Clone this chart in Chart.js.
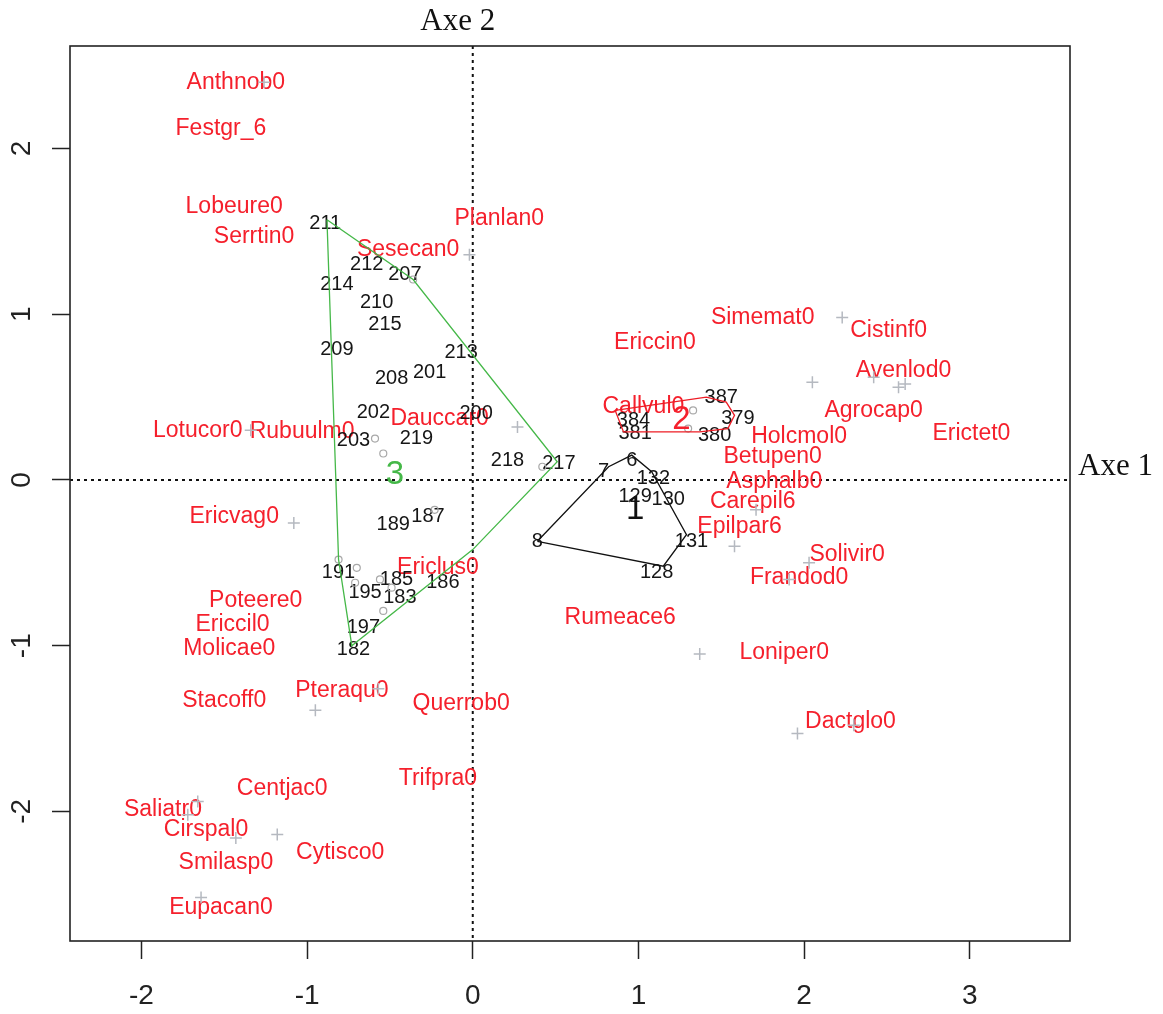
<!DOCTYPE html>
<html>
<head>
<meta charset="utf-8">
<script src="https://cdn.jsdelivr.net/npm/chart.js@4.4.1/dist/chart.umd.min.js"></script>
<style>
  html, body { margin: 0; padding: 0; background: #ffffff; }
  #wrap { width: 1163px; height: 1014px; position: relative; }
</style>
</head>
<body>
<div id="wrap"><canvas id="c" width="1163" height="1014"></canvas></div>
<script>
// ---- species (red labels) ----
const speciesNames = ['Anthnob0','Festgr_6','Lobeure0','Serrtin0','Planlan0','Sesecan0','Simemat0','Cistinf0',
  'Ericcin0','Avenlod0','Agrocap0','Callvul0','Erictet0','Holcmol0','Lotucor0','Rubuulm0','Dauccar0','Betupen0',
  'Asphalb0','Carepil6','Epilpar6','Ericvag0','Solivir0','Ericlus0','Frandod0','Poteere0','Rumeace6','Ericcil0',
  'Molicae0','Loniper0','Stacoff0','Pteraqu0','Querrob0','Dactglo0','Trifpra0','Centjac0','Saliatr0','Cirspal0',
  'Smilasp0','Cytisco0','Eupacan0'];
const speciesX = [-1.43,-1.52,-1.44,-1.32,0.16,-0.39,1.75,2.51,
  1.10,2.60,2.42,1.03,3.01,1.97,-1.66,-1.03,-0.20,1.81,
  1.82,1.69,1.61,-1.44,2.26,-0.21,1.97,-1.31,0.89,-1.45,
  -1.47,1.88,-1.50,-0.79,-0.07,2.28,-0.21,-1.15,-1.87,-1.61,
  -1.49,-0.80,-1.52];
const speciesY = [2.40,2.12,1.65,1.47,1.58,1.39,0.98,0.90,
  0.83,0.66,0.42,0.44,0.28,0.26,0.30,0.29,0.37,0.14,
  -0.01,-0.13,-0.28,-0.22,-0.45,-0.53,-0.59,-0.73,-0.83,-0.87,
  -1.02,-1.04,-1.33,-1.27,-1.35,-1.46,-1.80,-1.86,-1.99,-2.11,
  -2.31,-2.25,-2.58];

// ---- species markers (grey crosses) ----
const crossX = [-0.02,0.27,-1.26,2.23,2.05,2.42,2.57,2.61,-1.34,-1.08,-0.95,-0.57,
  -1.66,-1.72,-1.43,-1.18,-1.64,1.58,1.71,2.03,1.91,1.37,1.96,2.30];
const crossY = [1.36,0.32,2.40,0.98,0.59,0.62,0.56,0.58,0.30,-0.26,-1.39,-1.26,
  -1.94,-2.02,-2.16,-2.14,-2.52,-0.40,-0.18,-0.50,-0.60,-1.05,-1.53,-1.48];

// ---- sites (black labels) ----
const siteNames = ['211','212','207','214','210','215','209','213','201','208','202','200','203','219','218','217',
  '189','187','191','185','186','195','183','197','182',
  '387','384','379','381','380',
  '6','7','132','129','130','8','131','128'];
const siteX = [-0.89,-0.64,-0.41,-0.82,-0.58,-0.53,-0.82,-0.07,-0.26,-0.49,-0.60,0.02,-0.72,-0.34,0.21,0.52,
  -0.48,-0.27,-0.81,-0.46,-0.18,-0.65,-0.44,-0.66,-0.72,
  1.50,0.97,1.60,0.98,1.46,
  0.96,0.79,1.09,0.98,1.18,0.39,1.32,1.11];
const siteY = [1.55,1.30,1.24,1.18,1.07,0.94,0.79,0.77,0.65,0.61,0.41,0.40,0.24,0.25,0.12,0.10,
  -0.27,-0.22,-0.56,-0.60,-0.62,-0.68,-0.71,-0.89,-1.02,
  0.50,0.36,0.37,0.28,0.27,
  0.12,0.05,0.01,-0.10,-0.12,-0.37,-0.37,-0.56];

// ---- site markers (grey circles) ----
const dotX = [-0.59,-0.54,0.42,-0.36,-0.81,-0.70,-0.71,-0.56,-0.49,-0.54,-0.23,1.33,1.30];
const dotY = [0.25,0.16,0.08,1.21,-0.48,-0.53,-0.62,-0.60,-0.65,-0.79,-0.18,0.42,0.31];

// ---- group hulls ----
const hull1X = [0.39,0.82,0.96,1.08,1.29,1.15];
const hull1Y = [-0.37,0.08,0.15,0.05,-0.33,-0.52];
const hull2X = [0.86,1.41,1.53,1.58,1.54,1.37,0.91];
const hull2Y = [0.42,0.50,0.47,0.39,0.31,0.29,0.29];
const hull3X = [-0.88,-0.36,0.51,0.00,-0.73,-0.81];
const hull3Y = [1.57,1.21,0.11,-0.42,-1.00,-0.48];

// ---- group labels ----
const groupNames = ['1','2','3'];
const groupX = [0.98,1.26,-0.47];
const groupY = [-0.18,0.36,0.03];

// ---- axes ----
const xTicks = [-2,-1,0,1,2,3];
const yTicks = [-2,-1,0,1,2];
const xRange = [-2.431, 3.605];
const yRange = [-2.782, 2.619];
const xTitle = 'Axe 1';
const yTitle = 'Axe 2';

const SANS = '"Liberation Sans", Arial, sans-serif';
const SERIF = '"Liberation Serif", "Times New Roman", serif';
const RED = '#f5202c';
const GREEN = '#45b848';

const pts = (xs, ys) => xs.map((x, i) => ({ x: x, y: ys[i] }));
const closed = (xs, ys) => { const p = pts(xs, ys); p.push(p[0]); return p; };

const overlay = {
  id: 'overlay',
  beforeDatasetsDraw(chart) {
    const { ctx, chartArea: a, scales: { x, y } } = chart;
    ctx.save();
    // dotted reference lines through the origin
    ctx.strokeStyle = '#111';
    ctx.lineWidth = 2;
    ctx.setLineDash([3, 4]);
    const x0 = x.getPixelForValue(0), y0 = y.getPixelForValue(0);
    ctx.beginPath();
    ctx.moveTo(x0, a.top); ctx.lineTo(x0, a.bottom);
    ctx.moveTo(a.left, y0); ctx.lineTo(a.right, y0);
    ctx.stroke();
    ctx.setLineDash([]);

    ctx.textAlign = 'center';
    ctx.textBaseline = 'middle';
    // species labels
    ctx.fillStyle = RED;
    ctx.font = '23px ' + SANS;
    speciesNames.forEach((n, i) => {
      ctx.fillText(n, x.getPixelForValue(speciesX[i]), y.getPixelForValue(speciesY[i]));
    });
    // site labels
    ctx.fillStyle = '#161616';
    ctx.font = '20px ' + SANS;
    siteNames.forEach((n, i) => {
      ctx.fillText(n, x.getPixelForValue(siteX[i]), y.getPixelForValue(siteY[i]));
    });
    ctx.restore();
  },
  afterDatasetsDraw(chart) {
    const { ctx, chartArea: a, scales: { x, y } } = chart;
    ctx.save();
    ctx.textAlign = 'center';
    ctx.textBaseline = 'middle';
    // group names at hull centres
    const gColors = ['#111111', RED, GREEN];
    ctx.font = '33px ' + SANS;
    groupNames.forEach((n, i) => {
      ctx.fillStyle = gColors[i];
      ctx.fillText(n, x.getPixelForValue(groupX[i]), y.getPixelForValue(groupY[i]));
    });
    // frame
    ctx.strokeStyle = '#222';
    ctx.lineWidth = 1.6;
    ctx.strokeRect(a.left, a.top, a.right - a.left, a.bottom - a.top);
    // vertical axis numbers, rotated
    ctx.fillStyle = '#222';
    ctx.font = '28px ' + SANS;
    yTicks.forEach(v => {
      ctx.save();
      ctx.translate(a.left - 48, y.getPixelForValue(v));
      ctx.rotate(-Math.PI / 2);
      ctx.fillText(String(v), 0, 0);
      ctx.restore();
    });
    // axis names
    ctx.fillStyle = '#111';
    ctx.font = '31px ' + SERIF;
    ctx.fillText(yTitle, x.getPixelForValue(0) - 15, a.top - 24);
    ctx.textAlign = 'left';
    ctx.fillText(xTitle, a.right + 8, y.getPixelForValue(0) - 13);
    ctx.restore();
  }
};

const hullStyle = (color) => ({
  showLine: true, fill: false, tension: 0, borderColor: color, borderWidth: 1.3,
  pointRadius: 0, pointHoverRadius: 0
});

new Chart(document.getElementById('c'), {
  type: 'scatter',
  data: {
    datasets: [
      Object.assign({ label: 'groupe 1', data: closed(hull1X, hull1Y) }, hullStyle('#111111')),
      Object.assign({ label: 'groupe 2', data: closed(hull2X, hull2Y) }, hullStyle('#ee1c25')),
      Object.assign({ label: 'groupe 3', data: closed(hull3X, hull3Y) }, hullStyle(GREEN)),
      { label: 'especes', data: pts(crossX, crossY), pointStyle: 'cross', pointRadius: 6,
        borderColor: '#b5b9c0', borderWidth: 1.5, backgroundColor: '#b5b9c0' },
      { label: 'releves', data: pts(dotX, dotY), pointStyle: 'circle', pointRadius: 3.5,
        borderColor: '#a8a8a8', borderWidth: 1.2, backgroundColor: 'rgba(0,0,0,0)' }
    ]
  },
  options: {
    responsive: false,
    animation: false,
    devicePixelRatio: 1,
    layout: { padding: { top: 46, right: 93, left: 0, bottom: 0 } },
    plugins: { legend: { display: false }, tooltip: { enabled: false } },
    events: [],
    scales: {
      x: {
        type: 'linear', min: xRange[0], max: xRange[1],
        afterBuildTicks: s => { s.ticks = xTicks.map(v => ({ value: v })); },
        afterFit: s => { s.height = 73; },
        border: { display: false },
        grid: { drawOnChartArea: false, drawTicks: true, tickLength: 18, tickColor: '#222', tickWidth: 1.5 },
        ticks: { autoSkip: false, maxRotation: 0, padding: 20, color: '#222',
                 font: { family: SANS, size: 28 }, callback: v => String(v) }
      },
      y: {
        type: 'linear', min: yRange[0], max: yRange[1],
        afterBuildTicks: s => { s.ticks = yTicks.map(v => ({ value: v })); },
        afterFit: s => { s.width = 70; },
        border: { display: false },
        grid: { drawOnChartArea: false, drawTicks: true, tickLength: 18, tickColor: '#222', tickWidth: 1.5 },
        ticks: { display: false }
      }
    }
  },
  plugins: [overlay]
});
</script>
</body>
</html>
